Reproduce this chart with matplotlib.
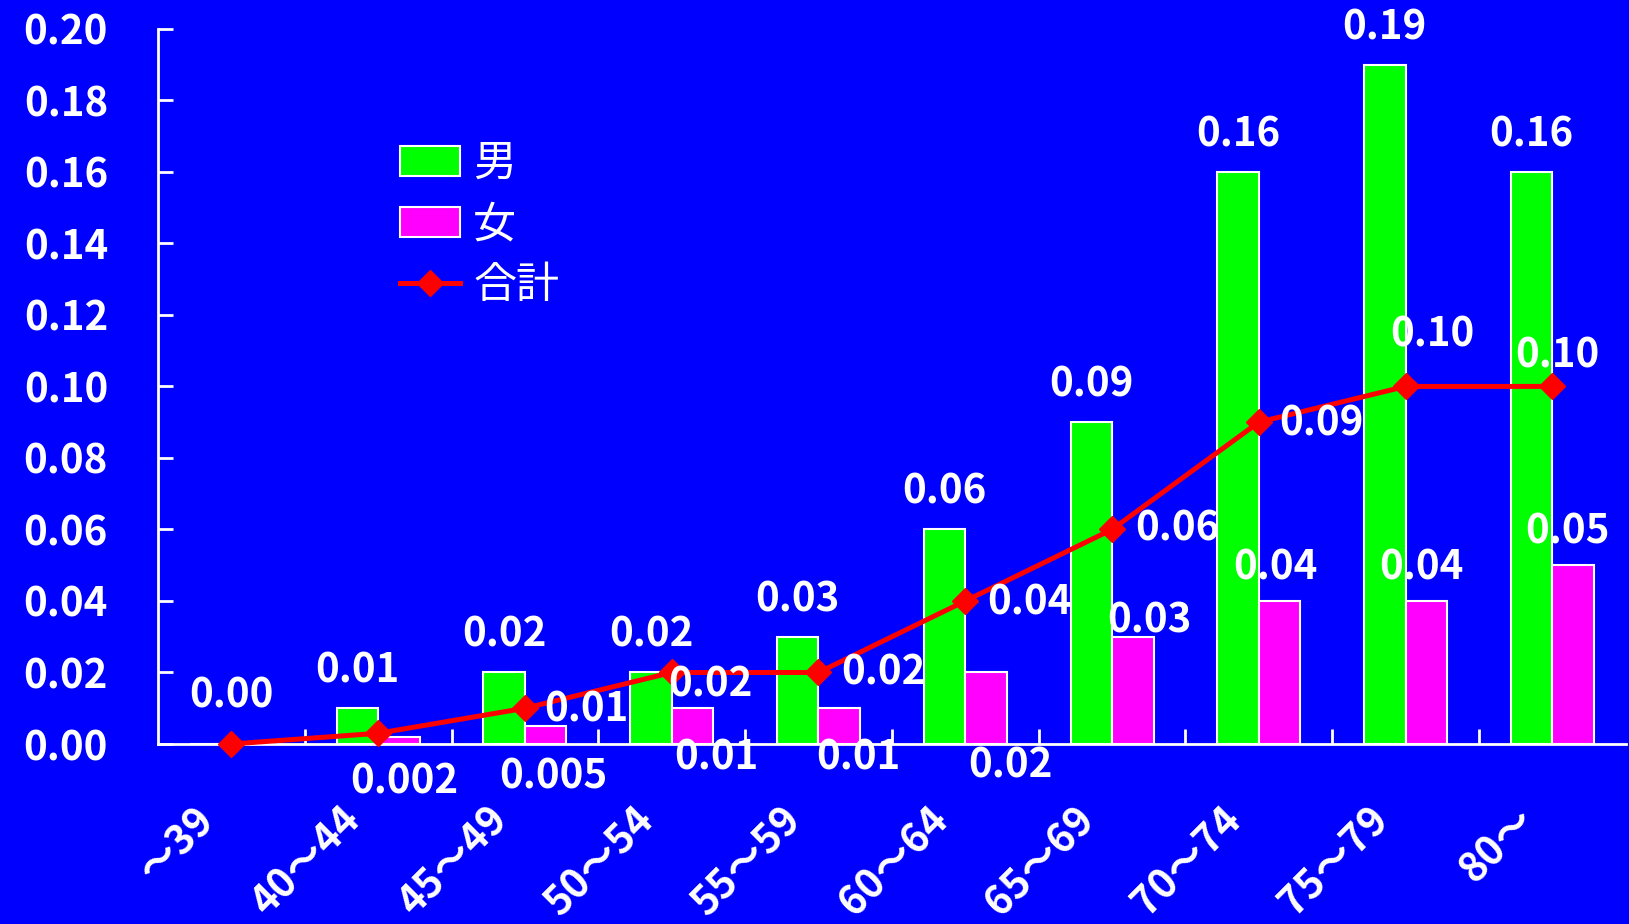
import numpy as np
import matplotlib
matplotlib.use('Agg')
import matplotlib.pyplot as plt
import matplotlib.transforms as mtransforms
from matplotlib.lines import Line2D
from matplotlib.patches import Patch

plt.rcParams['font.family'] = ['Noto Sans CJK JP', 'DejaVu Sans']
plt.rcParams['font.weight'] = 'bold'

# age groups and rates
ages = ['～39', '40～44', '45～49', '50～54', '55～59', '60～64', '65～69', '70～74', '75～79', '80～']
male = [0.0, 0.01, 0.02, 0.02, 0.03, 0.06, 0.09, 0.16, 0.19, 0.16]
female = [0.0, 0.002, 0.005, 0.01, 0.01, 0.02, 0.03, 0.04, 0.04, 0.05]
total = [0.0, 0.003, 0.01, 0.02, 0.02, 0.04, 0.06, 0.09, 0.10, 0.10]

male_labels = [None, '0.01', '0.02', '0.02', '0.03', '0.06', '0.09', '0.16', '0.19', '0.16']
female_labels = [None, '0.002', '0.005', '0.01', '0.01', '0.02', '0.03', '0.04', '0.04', '0.05']
total_labels = ['0.00', None, '0.01', '0.02', '0.02', '0.04', '0.06', '0.09', '0.10', '0.10']

# label offsets in pixels (dx, dy), dy positive = up
female_off = [(0, 0), (5, -45), (8, -51), (24, -50), (19, -50), (24, -94), (17, 16), (-4, 33), (-5, 33), (-6, 33)]
total_off = [(0, 48), (0, 0), (61, -2), (39, -13), (65, -1), (64, -2), (65, 0), (63, -2), (27, 51), (5, 30)]

BG = '#0000FF'
GREEN = '#00FF00'
MAGENTA = '#FF00FF'
RED = '#FF0000'
FS = 29

fig = plt.figure(figsize=(16.29, 9.24), dpi=100, facecolor=BG)
ax = fig.add_axes([0.097, 0.1948, 0.901, 0.774])
ax.set_facecolor(BG)

x = np.arange(len(ages))
w = 0.283
ax.bar(x - w / 2, male, w, color=GREEN, edgecolor='white', linewidth=1.5, zorder=2)
ax.bar(x + w / 2, female, w, color=MAGENTA, edgecolor='white', linewidth=1.5, zorder=2)
ax.plot(x, total, color=RED, linewidth=3.6, marker='D', markersize=13, zorder=3, clip_on=False)

ax.set_xlim(-0.5, len(ages) - 0.5)
ax.set_ylim(0, 0.20)
ax.set_yticks(np.arange(0, 0.201, 0.02))
ax.yaxis.set_major_formatter(plt.FormatStrFormatter('%.2f'))

ax.set_xticks(x)
ax.set_xticklabels(ages, rotation=45, ha='right', rotation_mode='anchor')
ax.set_xticks(np.arange(0.5, len(ages) - 1, 1), minor=True)
ax.tick_params(axis='x', which='major', length=0, pad=40, colors='white', labelsize=FS)
ax.tick_params(axis='x', which='minor', length=11, width=2, direction='in', color='white')
ax.tick_params(axis='y', length=11, width=2, direction='in', colors='white', labelsize=FS, pad=36)

# nudge the slanted age labels to the left
shift = mtransforms.ScaledTranslation(-38 / 100, 0, fig.dpi_scale_trans)
for lab in ax.get_xticklabels():
    lab.set_transform(lab.get_transform() + shift)

for s in ['top', 'right']:
    ax.spines[s].set_visible(False)
for s in ['left', 'bottom']:
    ax.spines[s].set_color('white')
    ax.spines[s].set_linewidth(2)

txt = dict(color='white', fontsize=FS, ha='center', va='center', textcoords='offset pixels', zorder=5)
for i in range(len(ages)):
    if male_labels[i]:
        ax.annotate(male_labels[i], (x[i] - w / 2, male[i]), xytext=(0, 37), **txt)
    if female_labels[i]:
        ax.annotate(female_labels[i], (x[i] + w / 2, female[i]), xytext=female_off[i], **txt)
    if total_labels[i]:
        ax.annotate(total_labels[i], (x[i], total[i]), xytext=total_off[i], **txt)

handles = [Patch(facecolor=GREEN, edgecolor='white', linewidth=1.5),
           Patch(facecolor=MAGENTA, edgecolor='white', linewidth=1.5),
           Line2D([], [], color=RED, linewidth=3.6, marker='D', markersize=13)]
leg = fig.legend(handles, ['男', '女', '合計'], loc='upper left', bbox_to_anchor=(400 / 1629, 1 - 142 / 924),
                 frameon=False, fontsize=FS + 2, handlelength=1.4, handleheight=0.7,
                 handletextpad=0.3, labelspacing=0.4, borderpad=0, borderaxespad=0)
for t in leg.get_texts():
    t.set_color('white')
    t.set_fontweight('normal')

fig.savefig('out.png', dpi=100, facecolor=BG)
